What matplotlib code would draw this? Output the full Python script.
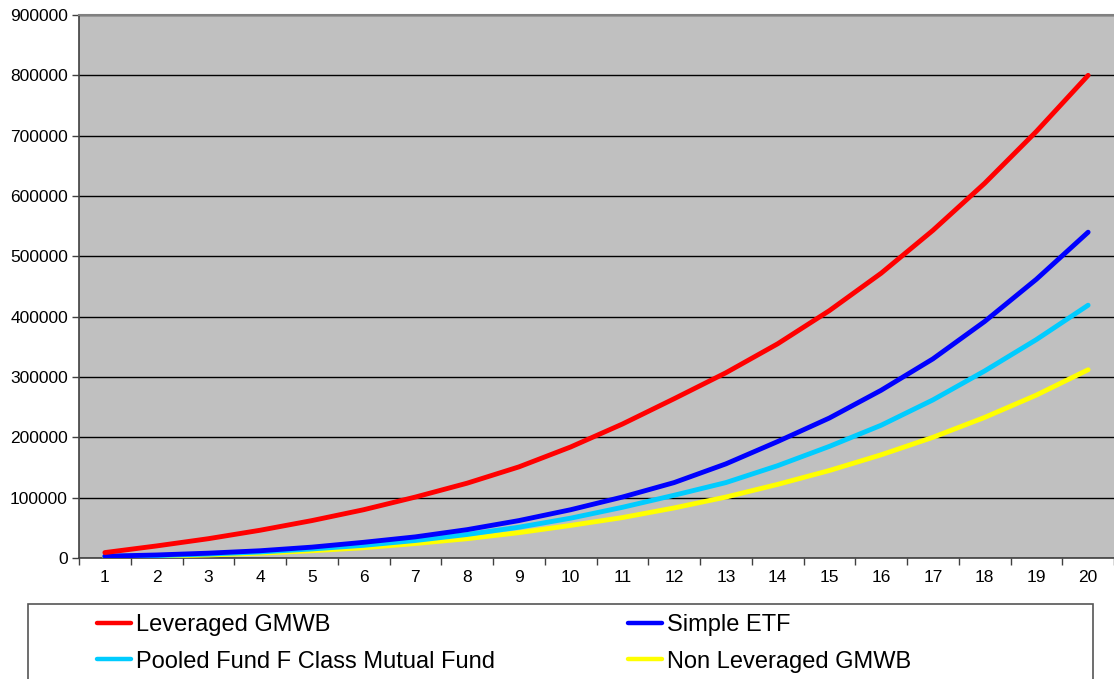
import matplotlib
matplotlib.use("Agg")
import matplotlib.pyplot as plt
from matplotlib.patches import Rectangle
from matplotlib.lines import Line2D

plt.rcParams['font.family'] = ['Liberation Sans', 'DejaVu Sans']

years = list(range(1, 21))
leveraged_gmwb = [9000, 20000, 32000, 46000, 62000, 80000, 101000, 124000, 151000, 184000,
                  222000, 264000, 307000, 355000, 410000, 472000, 543000, 621000, 707000, 800000]
simple_etf = [3000, 5000, 8000, 12000, 18000, 26000, 35000, 47000, 62000, 80000,
              101000, 125000, 156000, 193000, 232000, 278000, 330000, 392000, 462000, 540000]
pooled_fund = [2500, 4000, 6500, 10000, 15000, 21000, 29000, 39000, 51000, 66000,
               84000, 104000, 125000, 153000, 185000, 220000, 262000, 310000, 362000, 419000]
non_leveraged = [1500, 3000, 5000, 8000, 12000, 17000, 24000, 32000, 42000, 54000,
                 67000, 83000, 101000, 122000, 145000, 171000, 200000, 233000, 270000, 312000]

series = [
    ("Leveraged GMWB", leveraged_gmwb, "#FF0000"),
    ("Simple ETF", simple_etf, "#0000FF"),
    ("Pooled Fund F Class Mutual Fund", pooled_fund, "#00CCFF"),
    ("Non Leveraged GMWB", non_leveraged, "#FFFF00"),
]
y_ticks = list(range(0, 900001, 100000))

W, H = 1114, 679
fig = plt.figure(figsize=(W / 100, H / 100), dpi=100)
ax = fig.add_axes([79 / W, (H - 558) / H, (W - 79) / W, 543 / H])
ax.set_facecolor("#C0C0C0")

# draw in reverse so the first series sits on top
for name, vals, col in reversed(series):
    ax.plot(years, vals, color=col, lw=3.5, solid_capstyle="round", solid_joinstyle="round", zorder=3)

ax.set_xlim(0.5, 20.5)
ax.set_ylim(0, 900000)
ax.set_yticks(y_ticks)
ax.set_yticklabels([str(v) for v in y_ticks], fontsize=12.5)
ax.set_xticks(years)
ax.set_xticklabels([str(y) for y in years], fontsize=12.5)
ax.set_xticks([y + 0.5 for y in range(0, 21)], minor=True)
ax.tick_params(axis="x", which="major", length=0, pad=9)
ax.tick_params(axis="x", which="minor", length=5, width=1, color="#404040", direction="out")
ax.tick_params(axis="y", length=5, width=1, color="#404040", direction="out", pad=3)

ax.grid(axis="y", color="black", lw=1)
ax.set_axisbelow(True)
ax.spines["right"].set_visible(False)
ax.spines["top"].set_color("#808080")
ax.spines["top"].set_linewidth(1.5)
ax.spines["left"].set_color("#404040")
ax.spines["left"].set_linewidth(1.2)
ax.spines["bottom"].set_color("#404040")
ax.spines["bottom"].set_linewidth(1.2)

# legend frame
fig.patches.append(Rectangle((28 / W, -0.05), (1093 - 28) / W, (H - 604) / H + 0.05,
                             transform=fig.transFigure, facecolor="white",
                             edgecolor="#555555", lw=1.2, zorder=0))

def make_handles(items):
    return [Line2D([], [], color=c, lw=3.2, solid_capstyle="round") for _, _, c in items]

legend_kw = dict(frameon=False, fontsize=17, handlelength=1.45, handletextpad=0.22,
                 labelspacing=0.62, borderpad=0, borderaxespad=0, loc="upper left")
col1 = [series[0], series[2]]
col2 = [series[1], series[3]]
leg1 = fig.legend(make_handles(col1), [n for n, _, _ in col1],
                  bbox_to_anchor=(97 / W, 1 - 614 / H), **legend_kw)
leg2 = fig.legend(make_handles(col2), [n for n, _, _ in col2],
                  bbox_to_anchor=(628 / W, 1 - 614 / H), **legend_kw)

fig.savefig("out.png", dpi=100, facecolor="white")
